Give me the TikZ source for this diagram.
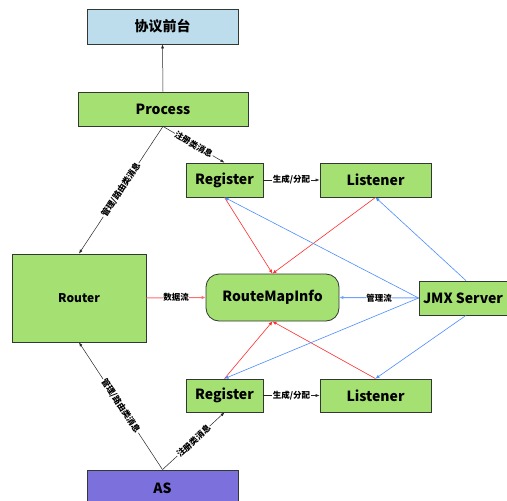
\documentclass[tikz,border=0pt]{standalone}
\usepackage{fontspec}
\setmainfont{Noto Sans CJK SC}
\usetikzlibrary{arrows.meta}
\definecolor{boxgreen}{RGB}{164,224,114}
\definecolor{boxblue}{RGB}{190,221,236}
\definecolor{boxpurple}{RGB}{124,112,220}
\definecolor{edgedark}{RGB}{50,56,50}
\definecolor{flowred}{RGB}{255,45,45}
\definecolor{flowblue}{RGB}{75,140,255}
\definecolor{datared}{RGB}{255,110,110}
\begin{document}
\begin{tikzpicture}[x=1pt,y=-1pt,
  box/.style={draw=edgedark,line width=0.8pt,font=\bfseries\fontsize{14}{14}\selectfont,inner sep=0pt},
  gbox/.style={box,fill=boxgreen},
  conn/.style={draw=black!85,line width=0.5pt,-{Latex[length=4pt,width=3pt]}},
  redc/.style={draw=flowred,line width=0.6pt,-{Latex[length=4pt,width=3.5pt]}},
  bluec/.style={draw=flowblue,line width=0.6pt,-{Latex[length=4pt,width=3.5pt]}},
  lbl/.style={font=\bfseries\fontsize{8.5}{8.5}\selectfont,fill=white,inner sep=0.6pt,text=black}
]
\useasboundingbox (0,0) rectangle (507,501);
\fill[white] (0,0) rectangle (507,501);

\node[box,fill=boxblue,minimum width=151pt,minimum height=35pt] (front) at (162.5,26.5) {协议前台};
\node[gbox,minimum width=170pt,minimum height=34pt] (process) at (163,109) {Process};
\node[gbox,minimum width=77pt,minimum height=34pt] (reg1) at (224.5,180) {Register};
\node[gbox,minimum width=111pt,minimum height=34pt] (lis1) at (375.5,180) {Listener};
\node[gbox,minimum width=134pt,minimum height=88pt,font=\bfseries\fontsize{12}{12}\selectfont] (router) at (79,298) {Router};
\node[gbox,rounded corners=13pt,minimum width=133pt,minimum height=47pt] (rmi) at (272.5,297.5) {RouteMapInfo};
\node[gbox,minimum width=94pt,minimum height=34pt] (jmx) at (466,298) {\hspace*{-6pt}JMX Server};
\node[gbox,minimum width=77pt,minimum height=33pt] (reg2) at (224.5,395.5) {Register};
\node[gbox,minimum width=111pt,minimum height=33pt] (lis2) at (375.5,395.5) {Listener};
\node[box,fill=boxpurple,minimum width=151pt,minimum height=36pt] (as) at (162.5,488) {AS};

% black connectors
\draw[conn] (process.north) -- (front.south);
\draw[conn] (process.south) -- (router.north) node[lbl,midway,sloped] {管理/路由类消息};
\draw[conn] (process.south) -- (reg1.north) node[lbl,midway,sloped] {注册类消息};
\draw[conn] (as.north) -- (router.south) node[lbl,midway,sloped] {管理/路由类消息};
\draw[conn] (as.north) -- (reg2.south) node[lbl,midway,sloped] {注册类消息};
\draw[conn] (reg1.east) -- (lis1.west) node[lbl,midway] {生成/分配};
\draw[conn] (reg2.east) -- (lis2.west) node[lbl,midway] {生成/分配};

% data / management flows
\draw[draw=datared,line width=1pt,-{Latex[length=4pt,width=3.5pt]}] (router.east) -- (rmi.west) node[lbl,midway] {数据流};
\draw[draw=flowblue!80,line width=1pt,-{Latex[length=4pt,width=3.5pt]}] (jmx.west) -- (rmi.east) node[lbl,midway] {管理流};

% red arrows
\draw[redc] (reg1.south) -- (rmi.north);
\draw[redc] (lis1.south) -- (rmi.north);
\draw[redc] (reg2.north) -- (rmi.south);
\draw[redc] (lis2.north) -- (rmi.south);

% blue arrows
\draw[bluec] (jmx.west) -- (reg1.south);
\draw[bluec] (jmx.north) -- (lis1.south);
\draw[bluec] (jmx.west) -- (reg2.north);
\draw[bluec] (jmx.south) -- (lis2.north);
\end{tikzpicture}
\end{document}
